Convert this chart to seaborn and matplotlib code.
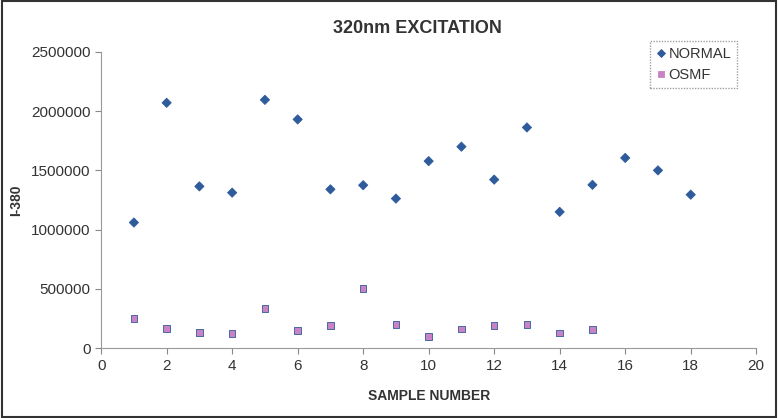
import pandas as pd
import matplotlib.pyplot as plt
import seaborn as sns

normal_x = list(range(1, 19))
normal_y = [1060000, 2070000, 1365000, 1312000, 2095000, 1930000, 1340000, 1375000, 1262000,
            1578000, 1700000, 1422000, 1862000, 1150000, 1378000, 1605000, 1500000, 1295000]
osmf_x = list(range(1, 16))
osmf_y = [250000, 168000, 132000, 125000, 333000, 148000, 192000, 505000, 200000,
          98000, 160000, 192000, 200000, 130000, 158000]

df = pd.concat([
    pd.DataFrame({'Sample': normal_x, 'I380': normal_y, 'Group': 'NORMAL'}),
    pd.DataFrame({'Sample': osmf_x, 'I380': osmf_y, 'Group': 'OSMF'}),
])

sns.set_style('white')
plt.rcParams['font.family'] = ['Liberation Sans', 'DejaVu Sans']

fig = plt.figure(figsize=(7.78, 4.18), dpi=100)
ax = fig.add_axes([0.13, 0.167, 0.842, 0.709])
sns.scatterplot(data=df, x='Sample', y='I380', hue='Group', style='Group',
                markers={'NORMAL': 'D', 'OSMF': 's'},
                palette={'NORMAL': '#2E5B9B', 'OSMF': '#C983C4'},
                s=22, edgecolor=None, linewidth=0.6, ax=ax)
for coll, ec in zip(ax.collections, ['#2E5B9B', '#9A5A98']):
    coll.set_edgecolor(ec)

ax.set_xlim(0, 20)
ax.set_ylim(0, 2500000)
ax.set_xticks(range(0, 21, 2))
ax.set_yticks(range(0, 2500001, 500000))
ax.ticklabel_format(style='plain', axis='y')
ax.tick_params(axis='both', length=4, width=0.8, color='#888888', labelsize=11,
               labelcolor='#333333', direction='out', bottom=True, left=True)
for side in ['top', 'right']:
    ax.spines[side].set_visible(False)
for side in ['left', 'bottom']:
    ax.spines[side].set_color('#999999')
    ax.spines[side].set_linewidth(0.8)

ax.set_xlabel('SAMPLE NUMBER', fontsize=10, fontweight='bold', color='#333333', labelpad=12)
ax.set_ylabel('I-380', fontsize=10, fontweight='bold', color='#333333', labelpad=6)
fig.text(0.537, 0.932, '320nm EXCITATION', ha='center', va='center',
         fontsize=13, fontweight='bold', color='#333333')

leg = ax.legend(loc='upper left', bbox_to_anchor=(0.826, 1.06), frameon=True,
                fontsize=10.5, handletextpad=0.1, borderpad=0.4, labelspacing=0.5,
                handlelength=0.8, fancybox=False, markerscale=0.9)
leg.get_frame().set_edgecolor('#888888')
leg.get_frame().set_linestyle((0, (1, 1)))
for t in leg.get_texts():
    t.set_color('#333333')

fig.patches.append(plt.Rectangle((0.002, 0.003), 0.996, 0.994, transform=fig.transFigure,
                                 fill=False, edgecolor='#333333', linewidth=1.5))
fig.savefig('out.png', dpi=100)
